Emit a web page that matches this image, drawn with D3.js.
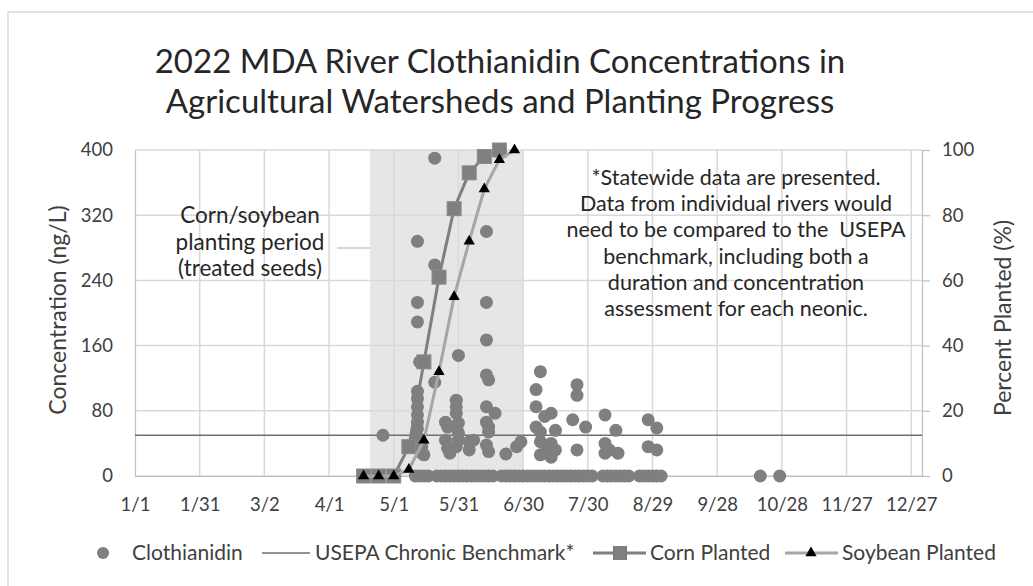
<!DOCTYPE html>
<html>
<head>
<meta charset="utf-8">
<script src="https://cdn.jsdelivr.net/npm/d3@7"></script>
<style>
  body { margin: 0; background: #fff; }
  svg { font-family: Lato, "Open Sans", sans-serif; }
  text { white-space: pre; }
</style>
</head>
<body>
<div id="chart"></div>
<script>
// clothianidin samples (ng/L)
const clothDates = [
  "4/26",
  "5/12","5/12","5/12","5/12","5/12","5/12","5/12","5/12","5/12","5/12","5/12",
  "5/13","5/14","5/14","5/15",
  "5/20","5/20","5/20",
  "5/25","5/25","5/26","5/26","5/27",
  "5/30","5/30","5/30","5/30",
  "5/31","5/31","5/31","5/31",
  "6/5","6/5","6/7",
  "6/13","6/13","6/13","6/13","6/13","6/13","6/13",
  "6/14","6/14","6/14","6/14",
  "6/17","6/22","6/27","6/29",
  "7/6","7/6","7/6",
  "7/8","7/8","7/8","7/8",
  "7/10","7/11","7/13","7/13","7/13","7/15","7/15",
  "7/23","7/25","7/25","7/25","7/29",
  "8/7","8/7","8/7","8/9","8/12","8/13",
  "8/27","8/27","8/31","8/31"
];
const clothValues = [
  50,
  288, 213, 189, 104, 95, 85, 75, 66, 58, 48, 40,
  140, 36, 28, 26,
  390, 259, 115,
  66, 44, 60, 34, 28,
  93, 85, 77, 36,
  148, 65, 53, 44,
  42, 32, 44,
  300, 213, 167, 124, 85, 66, 38,
  118, 60, 54, 30,
  77, 27, 36, 42,
  106, 85, 60,
  128, 54, 42, 26,
  73, 36, 77, 40, 23, 56, 32,
  69, 112, 99, 32, 60,
  75, 40, 28, 32, 56, 28,
  69, 36, 59, 32
];
// samples below detection (plotted at 0)
const zeroDates = [
  "5/11","5/13","5/15","5/17","5/21","5/23","5/25","5/27","5/29","5/31",
  "6/2","6/4","6/6","6/8","6/10","6/12","6/14","6/16","6/20","6/22","6/24",
  "6/26","6/28","6/30","7/2","7/4","7/6","7/8","7/10","7/12","7/14","7/16",
  "7/18","7/20","7/22","7/24","7/26","7/28","7/30","8/1","8/6","8/8","8/10",
  "8/12","8/14","8/16","8/18","8/23","8/25","8/27","8/29","8/31","9/2",
  "10/18","10/27"
];

const cornDates = ["4/17","4/24","5/1","5/8","5/15","5/22","5/29","6/5","6/12","6/19"];
const cornPct = [0, 0, 0, 9, 35, 61, 82, 93, 98, 100];
const soyDates = ["4/17","4/24","5/1","5/8","5/15","5/22","5/29","6/5","6/12","6/19","6/26"];
const soyPct = [0, 0, 0, 2, 11, 32, 55, 72, 88, 97, 100];

const benchmark = 50;
const plantingPeriod = ["4/20", "6/30"];

const xTickLabels = ["1/1","1/31","3/2","4/1","5/1","5/31","6/30","7/30","8/29","9/28","10/28","11/27","12/27"];
const yTicks = [0, 80, 160, 240, 320, 400];
const y2Ticks = [0, 20, 40, 60, 80, 100];

const titleLines = ["2022 MDA River Clothianidin Concentrations in", "Agricultural Watersheds and Planting Progress"];
const noteLeft = ["Corn/soybean", "planting period", "(treated seeds)"];
const noteRight = [
  "*Statewide data are presented.",
  "Data from individual rivers would",
  "need to be compared to the  USEPA",
  "benchmark, including both a",
  "duration and concentration",
  "assessment for each neonic."
];

const parse = s => d3.timeParse("%m/%d/%Y")(s + "/2022");

const width = 1033, height = 586;
const plotLeft = 135, plotRight = 922, plotTop = 150, plotBottom = 476;

const x = d3.scaleTime()
  .domain([new Date(2022, 0, 1), new Date(2023, 0, 1)])
  .range([plotLeft, plotRight]);
const y = d3.scaleLinear().domain([0, 400]).range([plotBottom, plotTop]);
const y2 = d3.scaleLinear().domain([0, 100]).range([plotBottom, plotTop]);

const svg = d3.select("#chart")
  .append("svg")
  .attr("width", width)
  .attr("height", height);

// outer chart border (only left/top show)
svg.append("rect")
  .attr("x", 8).attr("y", 12)
  .attr("width", width + 20).attr("height", height + 20)
  .attr("fill", "#fff")
  .attr("stroke", "#d9d9d9")
  .attr("stroke-width", 1.5);

// title
svg.append("g")
  .selectAll("text")
  .data(titleLines)
  .join("text")
  .attr("x", 500)
  .attr("y", (d, i) => 73 + i * 40)
  .attr("text-anchor", "middle")
  .attr("font-size", 33)
  .attr("fill", "#262626")
  .text(d => d);

// planting period shading
svg.append("rect")
  .attr("x", x(parse(plantingPeriod[0])))
  .attr("y", plotTop)
  .attr("width", x(parse(plantingPeriod[1])) - x(parse(plantingPeriod[0])))
  .attr("height", plotBottom - plotTop)
  .attr("fill", "#e6e6e6");

// gridlines
svg.append("g")
  .selectAll("line")
  .data(yTicks)
  .join("line")
  .attr("x1", plotLeft).attr("x2", plotRight)
  .attr("y1", d => y(d)).attr("y2", d => y(d))
  .attr("stroke", "#d9d9d9")
  .attr("stroke-width", 1.5);

svg.append("g")
  .selectAll("line")
  .data(xTickLabels.slice(1))
  .join("line")
  .attr("x1", d => x(parse(d))).attr("x2", d => x(parse(d)))
  .attr("y1", plotTop).attr("y2", plotBottom)
  .attr("stroke", "#d9d9d9")
  .attr("stroke-width", 1.5);

// axes
const yAxis = svg.append("g")
  .attr("transform", `translate(${plotLeft},0)`)
  .call(d3.axisLeft(y).tickValues(yTicks).tickSize(0).tickPadding(22));
const y2Axis = svg.append("g")
  .attr("transform", `translate(${plotRight},0)`)
  .call(d3.axisRight(y2).tickValues(y2Ticks).tickSize(8).tickPadding(12));
const xAxis = svg.append("g")
  .attr("transform", `translate(0,${plotBottom})`)
  .call(d3.axisBottom(x).tickValues(xTickLabels.map(parse)).tickFormat(d3.timeFormat("%-m/%-d")).tickSize(0).tickPadding(22));

[yAxis, y2Axis, xAxis].forEach(g => {
  g.select(".domain").attr("stroke", "#bfbfbf").attr("stroke-width", 1.2);
  g.selectAll(".tick line").attr("stroke", "#bfbfbf").attr("stroke-width", 1.2);
  g.selectAll("text").attr("font-size", 18.5).attr("fill", "#404040")
    .attr("font-family", "Lato, sans-serif");
});

// axis titles
svg.append("text")
  .attr("transform", `translate(58,${(plotTop + plotBottom) / 2 - 3}) rotate(-90)`)
  .attr("dy", "0.35em")
  .attr("text-anchor", "middle")
  .attr("font-size", 23)
  .attr("fill", "#404040")
  .text("Concentration (ng/L)");

svg.append("text")
  .attr("transform", `translate(1003,${(plotTop + plotBottom) / 2 + 5}) rotate(-90)`)
  .attr("dy", "0.35em")
  .attr("text-anchor", "middle")
  .attr("font-size", 23)
  .attr("fill", "#404040")
  .text("Percent Planted (%)");

// benchmark line
svg.append("line")
  .attr("x1", plotLeft).attr("x2", plotRight)
  .attr("y1", y(benchmark)).attr("y2", y(benchmark))
  .attr("stroke", "#6f6f6f")
  .attr("stroke-width", 1.5);

// clothianidin points
const dotColor = "#7f7f7f";
const points = clothDates.map((d, i) => ({ date: parse(d), value: clothValues[i] }))
  .concat(zeroDates.map(d => ({ date: parse(d), value: 0 })));

svg.append("g")
  .selectAll("circle")
  .data(points)
  .join("circle")
  .attr("cx", d => x(d.date))
  .attr("cy", d => y(d.value))
  .attr("r", 6.5)
  .attr("fill", dotColor);

// planting progress
const line = d3.line().x(d => x(d.date)).y(d => y2(d.pct));
const corn = cornDates.map((d, i) => ({ date: parse(d), pct: cornPct[i] }));
const soy = soyDates.map((d, i) => ({ date: parse(d), pct: soyPct[i] }));

svg.append("path")
  .datum(corn)
  .attr("d", line)
  .attr("fill", "none")
  .attr("stroke", "#7f7f7f")
  .attr("stroke-width", 3);

svg.append("g")
  .selectAll("rect")
  .data(corn)
  .join("rect")
  .attr("x", d => x(d.date) - 7)
  .attr("y", d => y2(d.pct) - 7)
  .attr("width", 14).attr("height", 14)
  .attr("fill", "#7f7f7f")
  .attr("stroke", "#8c8c8c");

svg.append("path")
  .datum(soy)
  .attr("d", line)
  .attr("fill", "none")
  .attr("stroke", "#a6a6a6")
  .attr("stroke-width", 3);

const tri = d3.symbol().type(d3.symbolTriangle).size(55);
svg.append("g")
  .selectAll("path")
  .data(soy)
  .join("path")
  .attr("transform", d => `translate(${x(d.date)},${y2(d.pct)})`)
  .attr("d", tri)
  .attr("fill", "#000");

// annotations
svg.append("g")
  .selectAll("text")
  .data(noteLeft)
  .join("text")
  .attr("x", 250)
  .attr("y", (d, i) => 223 + i * 26.5)
  .attr("text-anchor", "middle")
  .attr("font-size", 22.5)
  .attr("fill", "#262626")
  .text(d => d);

svg.append("line")
  .attr("x1", 337).attr("x2", 370)
  .attr("y1", 248).attr("y2", 248)
  .attr("stroke", "#c8c8c8")
  .attr("stroke-width", 1.5);

svg.append("g")
  .selectAll("text")
  .data(noteRight)
  .join("text")
  .attr("x", 736)
  .attr("y", (d, i) => 185 + i * 26.2)
  .attr("text-anchor", "middle")
  .attr("font-size", 21.5)
  .attr("fill", "#262626")
  .text(d => d);

// legend
const ly = 553;
const legend = svg.append("g").attr("font-size", 21).attr("fill", "#404040");
legend.append("circle").attr("cx", 103).attr("cy", ly).attr("r", 6).attr("fill", dotColor);
legend.append("text").attr("x", 132).attr("y", ly).attr("dy", "0.35em").text("Clothianidin");
legend.append("line").attr("x1", 262).attr("x2", 310).attr("y1", ly).attr("y2", ly)
  .attr("stroke", "#6f6f6f").attr("stroke-width", 1.5);
legend.append("text").attr("x", 315).attr("y", ly).attr("dy", "0.35em").text("USEPA Chronic Benchmark*");
legend.append("line").attr("x1", 593).attr("x2", 646).attr("y1", ly).attr("y2", ly)
  .attr("stroke", "#7f7f7f").attr("stroke-width", 3);
legend.append("rect").attr("x", 613).attr("y", ly - 7).attr("width", 14).attr("height", 14)
  .attr("fill", "#7f7f7f");
legend.append("text").attr("x", 650).attr("y", ly).attr("dy", "0.35em").text("Corn Planted");
legend.append("line").attr("x1", 785).attr("x2", 838).attr("y1", ly).attr("y2", ly)
  .attr("stroke", "#a6a6a6").attr("stroke-width", 3);
legend.append("path").attr("transform", `translate(811,${ly})`).attr("d", tri).attr("fill", "#000");
legend.append("text").attr("x", 842).attr("y", ly).attr("dy", "0.35em").text("Soybean Planted");
</script>
</body>
</html>
